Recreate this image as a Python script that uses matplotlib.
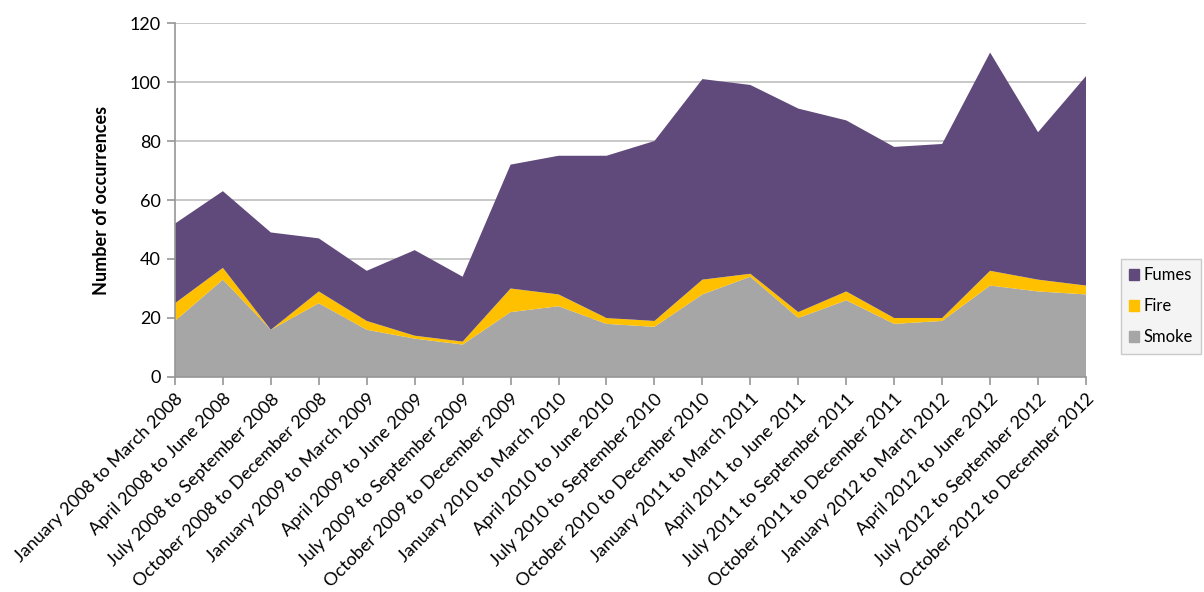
import numpy as np
import matplotlib.pyplot as plt
from matplotlib.patches import Patch

plt.rcParams['font.family'] = ['Lato', 'DejaVu Sans']

# periods (quarters)
PERIODS = [
    "January 2008 to March 2008", "April 2008 to June 2008",
    "July 2008 to September 2008", "October 2008 to December 2008",
    "January 2009 to March 2009", "April 2009 to June 2009",
    "July 2009 to September 2009", "October 2009 to December 2009",
    "January 2010 to March 2010", "April 2010 to June 2010",
    "July 2010 to September 2010", "October 2010 to December 2010",
    "January 2011 to March 2011", "April 2011 to June 2011",
    "July 2011 to September 2011", "October 2011 to December 2011",
    "January 2012 to March 2012", "April 2012 to June 2012",
    "July 2012 to September 2012", "October 2012 to December 2012",
]
SMOKE = [19, 33, 16, 25, 16, 13, 11, 22, 24, 18, 17, 28, 34, 20, 26, 18, 19, 31, 29, 28]
FIRE = [6, 4, 0, 4, 3, 1, 1, 8, 4, 2, 2, 5, 1, 2, 3, 2, 1, 5, 4, 3]
FUMES = [27, 26, 33, 18, 17, 29, 22, 42, 47, 55, 61, 68, 64, 69, 58, 58, 59, 74, 50, 71]

COLORS = {"Smoke": "#A6A6A6", "Fire": "#FFC000", "Fumes": "#604A7B"}

fig = plt.figure(figsize=(12.04, 5.92), dpi=100)
ax = fig.add_axes([0.1453, 0.3632, 0.7567, 0.5979])

x = np.arange(len(PERIODS))
ax.stackplot(x, SMOKE, FIRE, FUMES,
             colors=[COLORS["Smoke"], COLORS["Fire"], COLORS["Fumes"]],
             linewidth=0, zorder=2)

ax.set_xlim(0, len(PERIODS) - 1)
ax.set_ylim(0, 120)
ax.set_yticks(range(0, 121, 20))
ax.yaxis.grid(True, color="#BFBFBF", linewidth=1.2, zorder=1)
ax.set_axisbelow(True)

for s in ["top", "right"]:
    ax.spines[s].set_visible(False)
for s in ["left", "bottom"]:
    ax.spines[s].set_color("#969696")
    ax.spines[s].set_linewidth(1.2)
    ax.spines[s].set_zorder(3)

ax.set_xticks(x)
ax.set_xticklabels(PERIODS, rotation=45, ha="right", rotation_mode="anchor", fontsize=13)
ax.tick_params(axis="x", length=6, color="#969696", width=1.2, pad=4)
ax.tick_params(axis="y", length=6, color="#969696", width=1.2, labelsize=13, pad=4)
ax.set_ylabel("Number of occurrences", fontsize=13, fontweight="bold", labelpad=14)

handles = [Patch(color=COLORS[k]) for k in ["Fumes", "Fire", "Smoke"]]
leg = ax.legend(handles, ["Fumes", "Fire", "Smoke"], loc="center left",
                bbox_to_anchor=(1.038, 0.2), frameon=True, fancybox=False,
                fontsize=12, handlelength=0.6, handleheight=0.6,
                handletextpad=0.25, labelspacing=0.9, borderpad=0.5,
                borderaxespad=0)
leg.get_frame().set_facecolor("#F2F2F2")
leg.get_frame().set_edgecolor("#BFBFBF")

plt.savefig("out.png", dpi=100)
